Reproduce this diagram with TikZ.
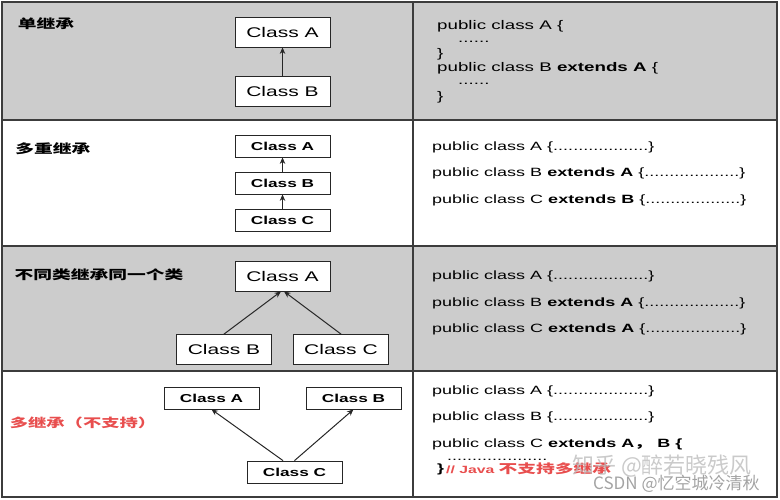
\documentclass[tikz,border=0pt]{standalone}
\usepackage{fontspec}
\setmainfont{Liberation Sans}[FakeStretch=1.5]
\newfontfamily\cjk{Noto Sans CJK SC}[FakeStretch=1.5]
\newfontfamily\wmcjk{Noto Sans CJK SC}
\usetikzlibrary{arrows.meta}
\definecolor{cellgray}{RGB}{204,204,204}
\definecolor{wmred}{RGB}{232,78,78}
\definecolor{linegray}{RGB}{60,60,60}
\tikzset{
  bigbox/.style={draw=black!85, fill=white, line width=0.8pt, minimum width=95pt, minimum height=30pt, inner sep=0pt, font=\fontsize{14}{16}\selectfont},
  smallbox/.style={draw=black!85, fill=white, line width=0.8pt, minimum width=95pt, minimum height=22pt, inner sep=0pt, font=\fontsize{11.5}{14}\selectfont\bfseries},
  inh/.style={-{Stealth[length=6.5pt,width=5.5pt]}, line width=1pt, draw=black!85},
  lab/.style={font=\cjk\bfseries\fontsize{12.5}{14}\selectfont, inner sep=0pt},
  code/.style={anchor=west, inner sep=0pt, font=\fontsize{12}{14}\selectfont},
  codebig/.style={anchor=west, inner sep=0pt, font=\fontsize{12.5}{15}\selectfont},
  wm/.style={anchor=west, inner sep=0pt},
}
\begin{document}
\begin{tikzpicture}[x=1pt,y=-1pt]
\useasboundingbox (0,0) rectangle (780,500);
% backgrounds
\fill[cellgray] (2,2) rectangle (777,120);
\fill[cellgray] (2,246) rectangle (777,371);
% grid
\draw[linegray, line width=1.3pt] (2,2) rectangle (777,497);
\draw[linegray, line width=1.3pt] (2,120) -- (777,120);
\draw[linegray, line width=1.3pt] (2,246) -- (777,246);
\draw[linegray, line width=1.3pt] (2,371) -- (777,371);
\draw[linegray, line width=1.3pt] (413,2) -- (413,497);

% labels
\node[lab] (lab1) at (46,24) {单继承};
\node[lab] (lab2) at (53,149) {多重继承};
\node[lab] (lab3) at (99,275) {不同类继承同一个类};
\node[lab, text=wmred, font=\cjk\bfseries\fontsize{12.2}{14}\selectfont] (lab4) at (83,423) {多继承（不支持）};

% row 1
\node[bigbox] (A1) at (282.5,32) {Class A};
\node[bigbox] (B1) at (282.5,91) {Class B};
\draw[inh] (B1.north) -- (A1.south);

% row 2
\node[smallbox] (A2) at (282.5,146) {Class A};
\node[smallbox] (B2) at (282.5,183) {Class B};
\node[smallbox] (C2) at (282.5,220) {Class C};
\draw[inh] (B2.north) -- (A2.south);
\draw[inh] (C2.north) -- (B2.south);

% row 3
\node[bigbox] (A3) at (282.5,276) {Class A};
\node[bigbox] (B3) at (224,349.5) {Class B};
\node[bigbox] (C3) at (341,349.5) {Class C};
\draw[inh] (B3.north) -- ([xshift=-1.5pt]A3.south);
\draw[inh] (C3.north) -- ([xshift=1.5pt]A3.south);

% row 4
\node[smallbox] (A4) at (211.5,398) {Class A};
\node[smallbox] (B4) at (353.5,398) {Class B};
\node[smallbox] (C4) at (294.5,472) {Class C};
\draw[inh] ([xshift=-11.5pt]C4.north) -- (A4.south);
\draw[inh] (C4.north) -- (B4.south);

% code row 1
\node[codebig] (c11) at (437,26) {public class A \{};
\node[codebig] (c12) at (458,42) {......};
\node[codebig] (c13) at (437,54) {\}};
\node[codebig] (c14) at (437,68) {public class B \textbf{extends A} \{};
\node[codebig] (c15) at (458,84) {......};
\node[codebig] (c16) at (437,97) {\}};

% code row 2
\node[code] (c21) at (432,147) {public class A \{...................\}};
\node[code] (c22) at (432,173) {public class B \textbf{extends A} \{...................\}};
\node[code] (c23) at (432,200) {public class C \textbf{extends B} \{...................\}};

% code row 3
\node[code] (c31) at (432,276) {public class A \{...................\}};
\node[code] (c32) at (432,303) {public class B \textbf{extends A} \{...................\}};
\node[code] (c33) at (432,329) {public class C \textbf{extends A} \{...................\}};

% code row 4
\node[code] (c41) at (432,391) {public class A \{...................\}};
\node[code] (c42) at (432,417) {public class B \{...................\}};
\node[code] (c43) at (432,444) {public class C \textbf{extends A{\cjk\bfseries ，} B \{}};
\node[code] (c44) at (447,460) {....................};
\node[code] (c45) at (437,469) {\textbf{\}}};
\node[code, text=wmred] (c46) at (446,469) {\bfseries\fontsize{10.5}{12}\selectfont // Java {\cjk\fontsize{12.5}{14}\selectfont 不支持多继承}};

% watermarks
\node[wm, text=black!28, opacity=0.75, font=\wmcjk\fontsize{22}{24}\selectfont] (wm1) at (572,466) {知乎 @醉若晓残风};
\node[wm, text=black!45, opacity=0.8, font=\wmcjk\fontsize{17}{20}\selectfont] (wm2) at (593,484) {CSDN @忆空城冷清秋};
\end{tikzpicture}
\end{document}
